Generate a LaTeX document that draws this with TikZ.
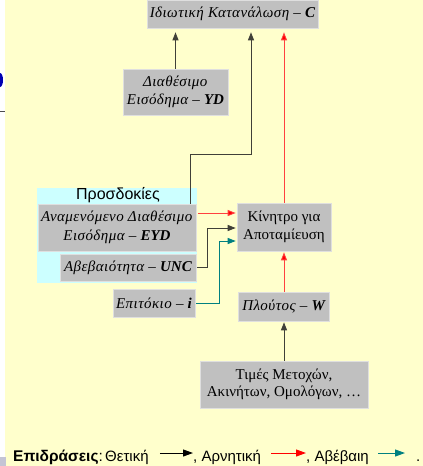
\documentclass[tikz,border=0pt]{standalone}
\usepackage{fontspec}
\setmainfont{Liberation Serif}[ItalicFeatures={LetterSpace=3}]
\newfontfamily\sansf{Liberation Sans}
\usetikzlibrary{arrows.meta,calc}
\definecolor{bgy}{HTML}{FFFFCC}
\definecolor{cyb}{HTML}{CCFFFF}
\definecolor{bxg}{HTML}{C0C0C0}
\definecolor{tealc}{HTML}{008080}
\definecolor{redl}{HTML}{FF4040}
\definecolor{darkl}{HTML}{404038}
\begin{document}
\begin{tikzpicture}[x=1pt,y=-1pt,
  box/.style={fill=bxg, draw=gray!25, line width=0.6pt, inner sep=0pt, align=center,
    font=\fontsize{15}{18.5}\selectfont},
  ar/.style={-{Triangle[length=8pt,width=6pt]}, line width=0.9pt},
  blk/.style={ar, draw=darkl},
  rd/.style={ar, draw=redl, -{Triangle[length=8pt,width=6pt,fill=red]}},
  tl/.style={ar, draw=tealc},
  lar/.style={-{Triangle[length=10pt,width=7pt]}, line width=1pt},
  leg/.style={inner sep=0pt, anchor=base west, font=\sansf\fontsize{15}{18}\selectfont}]
\useasboundingbox (0,0) rectangle (423,466);
\fill[bgy] (5,0) rectangle (423,466);
% edge artefacts
\fill[blue!70!black] (0,73) arc[start angle=90, end angle=-90, x radius=3pt, y radius=7pt];
\draw[gray!60!black, line width=1pt] (0,111) -- (5,111);
\fill[blue!15!gray!40] (0,457) rectangle (6,466);
% expectations panel
\node[fill=cyb, inner sep=0pt, minimum width=160pt, minimum height=95pt] (P) at (117,235.5) {};
\node[inner sep=0pt, font=\sansf\fontsize{16}{18}\selectfont] (Pt) at (118,195.5) {Προσδοκίες};
% boxes
\node[box, minimum width=171pt, minimum height=28pt] (C) at (232.5,14)
  {\textit{Ιδιωτική Κατανάλωση – \textbf{C}}};
\node[box, minimum width=105pt, minimum height=46pt] (YD) at (175.5,92)
  {\textit{Διαθέσιμο}\\\textit{Εισόδημα – \textbf{YD}}};
\node[box, minimum width=158pt, minimum height=47pt] (EYD) at (117,227.5)
  {\textit{Αναμενόμενο Διαθέσιμο}\\\textit{Εισόδημα – \textbf{EYD}}};
\node[box, minimum width=136pt, minimum height=27pt] (UNC) at (128,267.5)
  {\textit{Αβεβαιότητα – \textbf{UNC}}};
\node[box, minimum width=82pt, minimum height=28pt] (I) at (154,303)
  {\textit{Επιτόκιο – \textbf{i}}};
\node[box, minimum width=94pt, minimum height=48pt] (K) at (284,227)
  {Κίνητρο για\\Αποταμίευση};
\node[box, minimum width=91pt, minimum height=29pt] (W) at (284,306.5)
  {\textit{Πλούτος – \textbf{W}}};
\node[box, minimum width=168pt, minimum height=47pt, font=\fontsize{15}{17}\selectfont] (T) at (284,384.5)
  {Τιμές Μετοχών,\\Ακινήτων, Ομολόγων, …};
% helper coordinates
\coordinate (k1) at (190,154);
\coordinate (k2) at (251,154);
\coordinate (r1) at (0,213);
\coordinate (b1) at (207,228);
\coordinate (t1) at (219,241);
% connectors
\draw[blk, shorten >=4pt] (YD.north) -- (YD.north |- C.south);
\draw[blk, shorten >=4pt] (EYD.north -| k1) |- (k2) -- (k2 |- C.south);
\draw[rd, shorten >=4pt] (K.north) -- (K.north |- C.south);
\draw[rd, shorten <=2pt, shorten >=1pt] (EYD.east |- r1) -- (K.west |- r1);
\draw[blk, shorten <=1pt, shorten >=1pt] (UNC.east) -| (b1) -- (K.west |- b1);
\draw[tl, shorten <=1pt, shorten >=1pt] (I.east) -| (t1) -- (K.west |- t1);
\draw[rd, shorten >=1pt] (W.north) -- (K.south);
\draw[blk, shorten >=1pt] (T.north) -- (W.south);
% legend
\node[leg] (L1) at (13,461) {\fontsize{15.5}{18}\selectfont\textbf{Επιδράσεις}:};
\node[leg] (L1b) at (105,461) {Θετική};
\node[leg] (L2) at (193,461) {, Αρνητική};
\node[leg] (L3) at (306,461) {, Αβέβαιη};
\node[leg] (L4) at (416,461) {.};
\draw[lar, draw=black, shorten <=11pt] ($(L1b.base east)+(0,-8)$) -- ($(L2.base west)+(0,-8)$);
\draw[lar, draw=red, shorten <=10pt] ($(L2.base east)+(0,-8)$) -- ($(L3.base west)+(0,-8)$);
\draw[lar, draw=tealc, shorten <=9pt, shorten >=11pt] ($(L3.base east)+(0,-8)$) -- ($(L4.base west)+(0,-8)$);
\end{tikzpicture}
\end{document}
